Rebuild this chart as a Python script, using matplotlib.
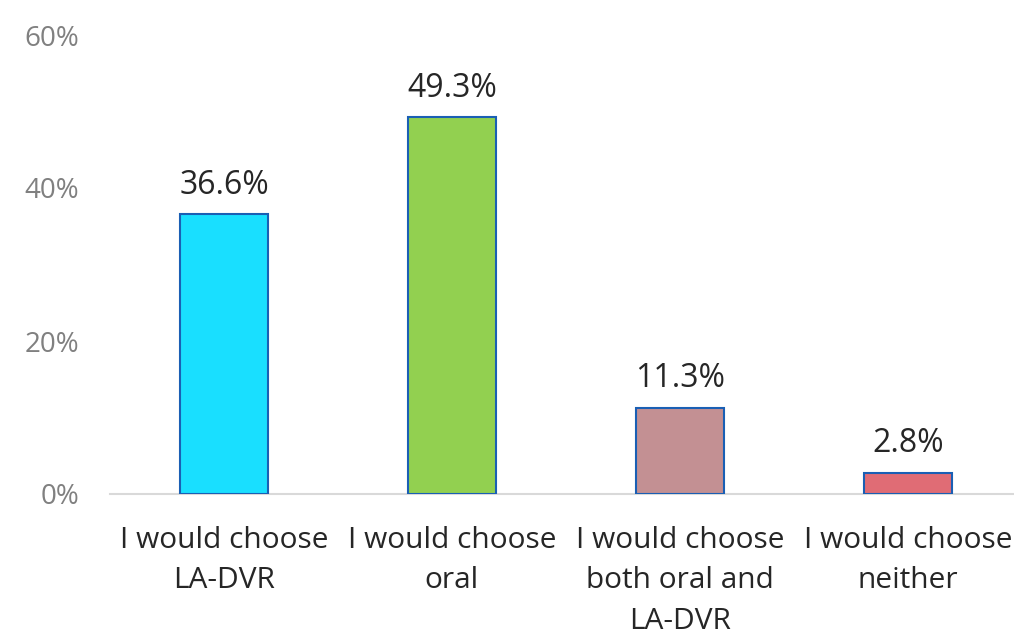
import numpy as np
import matplotlib
matplotlib.use("Agg")
from matplotlib import pyplot as plt
from matplotlib.ticker import FuncFormatter

categories = ["I would choose\nLA-DVR", "I would choose\noral",
              "I would choose\nboth oral and\nLA-DVR", "I would choose\nneither"]
values = [36.6, 49.3, 11.3, 2.8]
bar_colors = ["#19DFFF", "#92D050", "#C39093", "#E06C75"]
y_ticks = [0, 20, 40, 60]

plt.rcParams['font.family'] = ['Open Sans', 'DejaVu Sans']

fig = plt.figure(figsize=(10.14, 6.37), dpi=100)
# axes placed in pixel terms: left 110, right edge 1014, bottom y=494, top y=35
ax = fig.add_axes([110 / 1014, (637 - 494) / 637, 904 / 1014, (494 - 35) / 637])

x = np.arange(len(categories))
ax.bar(x, values, width=0.386, color=bar_colors, edgecolor="#1A5FB4", linewidth=1.5, zorder=3)

for xi, v in zip(x, values):
    ax.text(xi, v + 1.6, f"{v:.1f}%", ha="center", va="bottom", fontsize=23, color="#262626")

ax.set_xlim(-0.5, -0.5 + 904 / 228)
ax.set_ylim(0, 60)
ax.set_yticks(y_ticks)
ax.yaxis.set_major_formatter(FuncFormatter(lambda v, p: f"{v:.0f}%"))
ax.set_xticks(x)
ax.set_xticklabels(categories, fontsize=21.5, color="#262626", linespacing=1.52)

for s in ["top", "right", "left"]:
    ax.spines[s].set_visible(False)
ax.spines["bottom"].set_color("#D9D9D9")
ax.spines["bottom"].set_linewidth(1.5)
ax.tick_params(axis="both", length=0)
ax.tick_params(axis="y", labelsize=20, labelcolor="#808080", pad=22)
ax.tick_params(axis="x", pad=23)

fig.savefig("out.png", dpi=100)
